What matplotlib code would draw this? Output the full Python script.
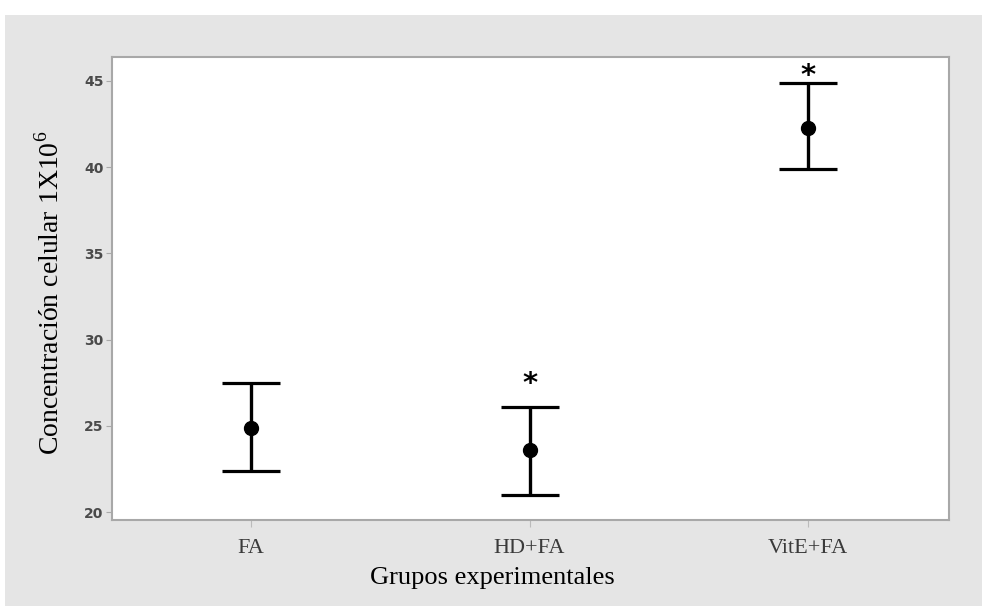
import numpy as np
import matplotlib.pyplot as plt
from matplotlib.patches import Rectangle

# grupos y valores (media e intervalo)
grupos = ['FA', 'HD+FA', 'VitE+FA']
medias = [24.9, 23.6, 42.3]
superior = [27.5, 26.1, 44.9]
inferior = [22.4, 21.0, 39.9]
# marca de significancia: altura del asterisco (None = sin marca)
asterisco = [None, 27.4, 45.3]

plt.rcParams['mathtext.fontset'] = 'custom'
plt.rcParams['mathtext.rm'] = 'Liberation Serif'

fig = plt.figure(figsize=(9.82, 6.06), dpi=100, facecolor='white')

# fondo gris del panel
fig.add_artist(Rectangle((5 / 982, 0), 1, 1 - 15 / 606, transform=fig.transFigure,
                         facecolor='#e5e5e5', edgecolor='none', zorder=-5))

ax = fig.add_axes([112 / 982, 86 / 606, 837 / 982, 463 / 606])
ax.set_facecolor('white')

x = np.arange(1, len(grupos) + 1)
medias = np.array(medias)
err = [medias - np.array(inferior), np.array(superior) - medias]
ax.errorbar(x, medias, yerr=err, fmt='o', color='black', ms=10, elinewidth=2.4,
            capsize=21, capthick=2.3)

for xi, ya in zip(x, asterisco):
    if ya is not None:
        ax.text(xi, ya, '*', ha='center', va='center', fontsize=21, fontweight='bold')

ax.set_xlim(0.501, 3.506)
ax.set_ylim(19.54, 46.39)
ax.set_xticks(x)
ax.set_xticklabels(grupos, family='Liberation Serif', fontsize=16, color='#3a3a3a')
ax.set_yticks([20, 25, 30, 35, 40, 45])
ax.tick_params(axis='y', labelsize=10, labelcolor='#4a4a4a', color='#aaaaaa', length=4, pad=2)
ax.tick_params(axis='x', color='#bbbbbb', length=5, pad=9)
for lbl in ax.get_yticklabels():
    lbl.set_fontweight('bold')

for sp in ax.spines.values():
    sp.set_color('#a8a8a8')
    sp.set_linewidth(1.5)

ax.set_xlabel('Grupos experimentales', family='Liberation Serif', fontsize=19, va='center')
ax.xaxis.set_label_coords(0.455, -0.125)
ax.set_ylabel(r'Concentración celular 1X10$^{6}$', family='Liberation Serif', fontsize=20,
              va='center')
ax.yaxis.set_label_coords(-0.074, 0.49)

fig.savefig('out.png', dpi=100, facecolor='white')
